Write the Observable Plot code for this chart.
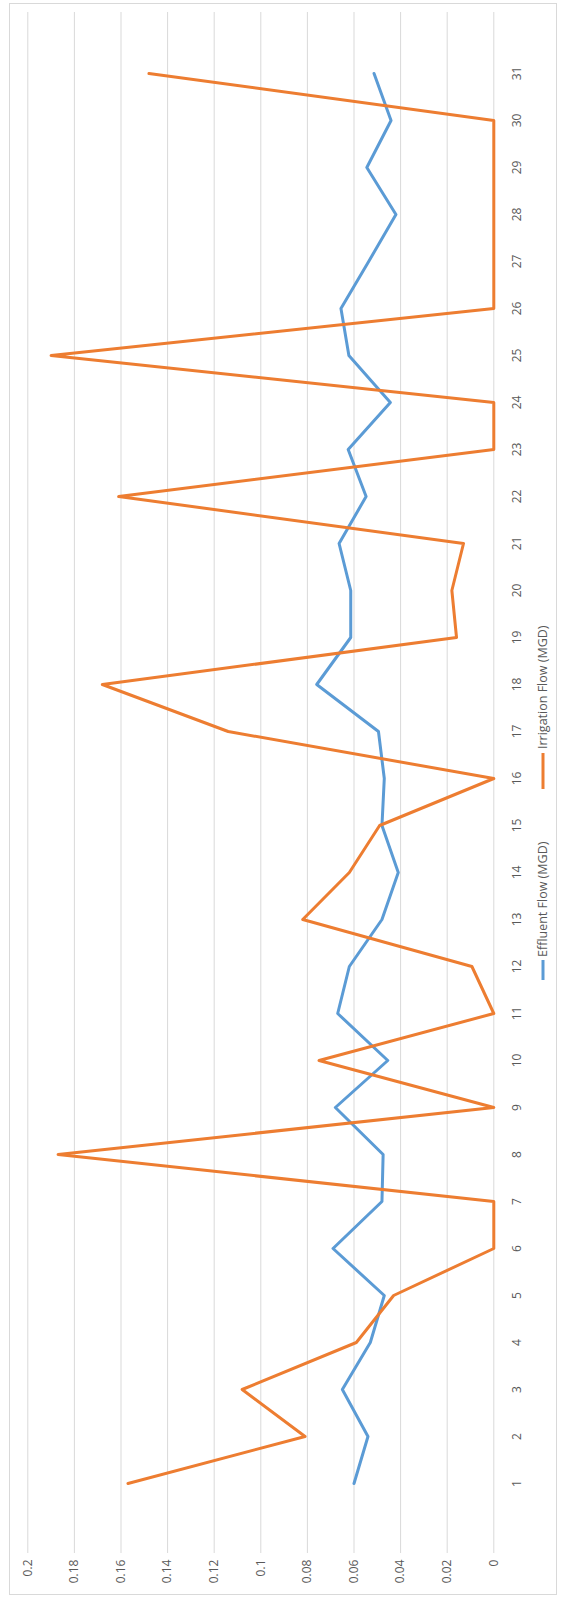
<!DOCTYPE html>
<html>
<head>
<meta charset="utf-8">
<script src="https://cdn.jsdelivr.net/npm/d3@7"></script>
<script src="https://cdn.jsdelivr.net/npm/@observablehq/plot@0.6"></script>
<style>
  html, body { margin: 0; padding: 0; background: #fff; }
</style>
</head>
<body>
<div id="chart"></div>
<script>
// Daily flows for the month, in million gallons per day
const days = [1, 2, 3, 4, 5, 6, 7, 8, 9, 10, 11, 12, 13, 14, 15, 16,
              17, 18, 19, 20, 21, 22, 23, 24, 25, 26, 27, 28, 29, 30, 31];

const effluentFlow = [0.060, 0.054, 0.065, 0.053, 0.047, 0.069, 0.048, 0.0475, 0.068, 0.0455,
                      0.067, 0.062, 0.048, 0.041, 0.048, 0.047, 0.0495, 0.076, 0.0614, 0.0614,
                      0.0664, 0.0548, 0.0625, 0.0444, 0.0622, 0.0656, 0.0537, 0.042, 0.0545, 0.0441,
                      0.0514];

const irrigationFlow = [0.157, 0.081, 0.108, 0.059, 0.043, 0, 0, 0.187, 0, 0.075,
                        0, 0.0094, 0.082, 0.062, 0.049, 0, 0.114, 0.168, 0.016, 0.018,
                        0.013, 0.161, 0, 0, 0.190, 0, 0, 0, 0, 0,
                        0.148];

const valueTicks = [0, 0.02, 0.04, 0.06, 0.08, 0.1, 0.12, 0.14, 0.16, 0.18, 0.2];
const valueTickLabels = ["0", "0.02", "0.04", "0.06", "0.08", "0.1", "0.12", "0.14", "0.16", "0.18", "0.2"];

const seriesNames = ["Effluent Flow (MGD)", "Irrigation Flow (MGD)"];
const seriesColors = ["#5B9BD5", "#ED7D31"];

const rows = days.map((d, i) => ({day: d, effluent: effluentFlow[i], irrigation: irrigationFlow[i]}));

const FONT = "'Open Sans', 'Liberation Sans', sans-serif";
const TEXT_GRAY = "#595959";

// Legend drawn along the right edge, reading bottom-to-top like the axis labels
function legend(index, scales, values, dims) {
  const g = d3.create("svg:g")
    .attr("font-family", FONT)
    .attr("font-size", 12.5)
    .attr("fill", TEXT_GRAY);
  const cx = 543;
  const items = [
    {name: seriesNames[1], color: seriesColors[1], keyTop: 753, keyBottom: 789, textStart: 749},
    {name: seriesNames[0], color: seriesColors[0], keyTop: 960, keyBottom: 980, textStart: 957}
  ];
  for (const it of items) {
    g.append("line")
      .attr("x1", cx).attr("x2", cx)
      .attr("y1", it.keyTop).attr("y2", it.keyBottom)
      .attr("stroke", it.color)
      .attr("stroke-width", 3);
    g.append("text")
      .attr("transform", `translate(${cx},${it.textStart}) rotate(-90)`)
      .attr("dy", "0.35em")
      .attr("text-anchor", "start")
      .text(it.name);
  }
  return g.node();
}

const chart = Plot.plot({
  width: 564,
  height: 1598,
  marginLeft: 9,
  marginRight: 8,
  marginTop: 3,
  marginBottom: 4,
  style: {fontFamily: FONT, background: "#fff"},
  x: {domain: [0, 0.2], range: [493.3, 27.3], axis: null},
  y: {type: "point", domain: days, range: [1520, 35], axis: null},
  marks: [
    Plot.frame({stroke: "#d9d9d9"}),
    Plot.ruleX(valueTicks, {x: d => d, stroke: "#d9d9d9", strokeWidth: 1, insetTop: 9, insetBottom: 41}),
    Plot.text(valueTicks, {
      x: d => d, text: (d, i) => valueTickLabels[i],
      frameAnchor: "bottom", dy: -35, rotate: -90,
      textAnchor: "end", lineAnchor: "middle",
      fill: TEXT_GRAY, fontSize: 12
    }),
    Plot.text(days, {
      y: d => d, text: d => String(d),
      frameAnchor: "right", dx: -39, rotate: -90,
      textAnchor: "middle", lineAnchor: "middle",
      fill: TEXT_GRAY, fontSize: 12
    }),
    Plot.line(rows, {
      x: "effluent", y: "day", stroke: seriesColors[0],
      strokeWidth: 3, strokeLinejoin: "round", strokeLinecap: "round"
    }),
    Plot.line(rows, {
      x: "irrigation", y: "day", stroke: seriesColors[1],
      strokeWidth: 3, strokeLinejoin: "round", strokeLinecap: "round"
    }),
    legend
  ]
});

document.getElementById("chart").appendChild(chart);
</script>
</body>
</html>
